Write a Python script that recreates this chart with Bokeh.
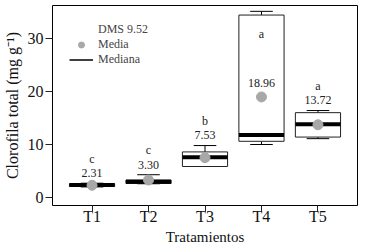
from bokeh.plotting import figure
from bokeh.models import FactorRange, Range1d, Legend, LegendItem, ColumnDataSource, FixedTicker
from bokeh.core.properties import value
from bokeh.embed import file_html
from bokeh.resources import INLINE

treatments = ["T1", "T2", "T3", "T4", "T5"]
whisker_lo = [2.0, 2.6, 5.85, 10.0, 11.1]
q1 = [2.1, 2.65, 5.85, 10.6, 11.4]
median = [2.35, 3.0, 7.6, 11.8, 13.8]
q3 = [2.6, 3.3, 8.6, 34.4, 16.0]
whisker_hi = [2.7, 4.3, 9.8, 35.1, 16.4]
means = [2.31, 3.30, 7.53, 18.96, 13.72]
letters = ["c", "c", "b", "a", "a"]
dms = 9.52
y_ticks = [0, 10, 20, 30]

FONT = "Liberation Serif"
Y0, Y1 = -1.5, 36.2

# label anchors: above the whisker, or above the mean for very tall boxes
tall = [(b - a) > 10 for a, b in zip(q1, q3)]
mean_lab_y = [(m + 0.7 if t else wh) + 1.9 for m, wh, t in zip(means, whisker_hi, tall)]
letter_y = [(b - 3.5 if t else ml + 2.7) for b, ml, t in zip(q3, mean_lab_y, tall)]

src = ColumnDataSource(dict(
    x=treatments, lo=whisker_lo, q1=q1, med=median, q3=q3, hi=whisker_hi,
    mean=means, mean_txt=["%.2f" % m for m in means], let=letters,
    mly=mean_lab_y, ly=letter_y,
    xl=[(t, -0.4) for t in treatments], xr=[(t, 0.4) for t in treatments],
    cl=[(t, -0.2) for t in treatments], cr=[(t, 0.2) for t in treatments],
))

p = figure(x_range=FactorRange(*treatments, range_padding=0.08),
           y_range=Range1d(Y0, Y1),
           width=363, height=247, output_backend="svg", toolbar_location=None,
           min_border_left=49, min_border_right=6, min_border_top=5, min_border_bottom=42)
p.background_fill_color = "white"
p.border_fill_color = "white"
p.outline_line_color = "black"
p.outline_line_width = 1
p.xgrid.grid_line_color = None
p.ygrid.grid_line_color = None

# whiskers
p.segment(x0="x", y0="q3", x1="x", y1="hi", source=src, line_color="black", line_width=1)
p.segment(x0="x", y0="lo", x1="x", y1="q1", source=src, line_color="black", line_width=1)
p.segment(x0="cl", y0="hi", x1="cr", y1="hi", source=src, line_color="black", line_width=1)
p.segment(x0="cl", y0="lo", x1="cr", y1="lo", source=src, line_color="black", line_width=1)
# boxes
p.vbar(x="x", width=0.8, bottom="q1", top="q3", source=src,
       fill_color="white", line_color="#222222", line_width=1)
# medians
p.segment(x0="xl", y0="med", x1="xr", y1="med", source=src, line_color="black", line_width=4)
# means
p.scatter(x="x", y="mean", source=src, size=10, fill_color="#a8a8a8", line_color="#a8a8a8")

# labels
p.text(x="x", y="mly", text="mean_txt", source=src, text_font=value(FONT), text_font_size="12px",
       text_align="center", text_baseline="middle", text_color="#222222")
p.text(x="x", y="ly", text="let", source=src, text_font=value(FONT), text_font_size="12px",
       text_align="center", text_baseline="middle", text_color="#222222")

# legend (proxy glyphs placed far outside the visible range)
off = dict(x=["T1"], y=[-1000])
dummy = p.scatter(x=off["x"], y=off["y"], alpha=0)
leg_line = p.line(x=off["x"] * 2, y=off["y"] * 2, line_color="black", line_width=1.5)
leg_pt = p.scatter(x=off["x"], y=off["y"], size=10, fill_color="#a8a8a8", line_color="#a8a8a8")
legend = Legend(items=[
    LegendItem(label="DMS %.2f" % dms, renderers=[dummy]),
    LegendItem(label="Media", renderers=[leg_pt]),
    LegendItem(label="Mediana", renderers=[leg_line]),
], location="top_left", margin=17, padding=0, spacing=0, glyph_width=24, glyph_height=15,
    label_height=15, label_standoff=5, label_text_font=FONT, label_text_font_size="12px",
    border_line_color=None, background_fill_alpha=0)
p.add_layout(legend)

# axes
for ax in (p.xaxis[0], p.yaxis[0]):
    ax.axis_line_color = None
    ax.major_tick_in = 0
    ax.minor_tick_line_color = None
    ax.major_tick_line_color = "#222222"
    ax.major_label_text_font = FONT
    ax.major_label_text_font_size = "16px"
    ax.major_label_text_color = "#111111"
    ax.axis_label_text_font = FONT
    ax.axis_label_text_font_style = "normal"
    ax.axis_label_text_color = "#111111"

p.yaxis.axis_label_text_font_size = "16px"
p.xaxis.axis_label_text_font_size = "15px"
p.yaxis.major_tick_out = 7
p.xaxis.major_tick_out = 6
p.yaxis.ticker = FixedTicker(ticks=y_ticks)
p.yaxis.axis_label = "Clorofila total (mg g\u207b\u00b9)"
p.xaxis.axis_label = "Tratamientos"
p.yaxis.major_label_standoff = 2
p.yaxis.axis_label_standoff = 4
p.xaxis.major_label_standoff = -4
p.xaxis.axis_label_standoff = 1

open("out.html", "w").write(file_html(p, INLINE))
